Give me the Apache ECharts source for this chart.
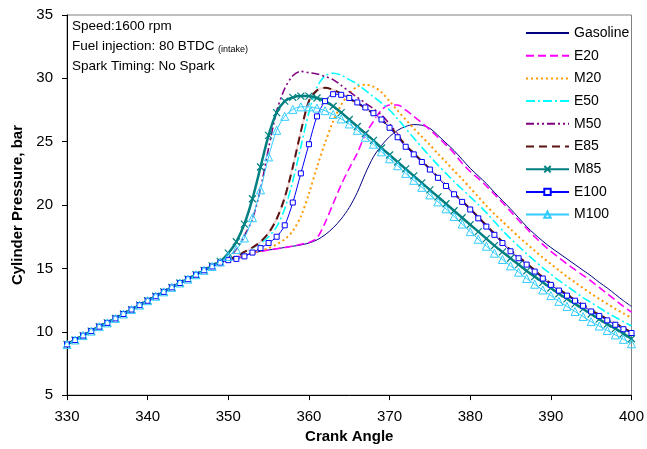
<!DOCTYPE html>
<html>
<head>
<meta charset="utf-8">
<script src="https://cdn.jsdelivr.net/npm/echarts@6/dist/echarts.min.js"></script>
<style>
  html, body { margin: 0; padding: 0; background: #fff; }
  #chart { width: 647px; height: 449px; }
</style>
</head>
<body>
<div id="chart"></div>
<script>
// crank angle, degrees
const angles = [
  330, 331, 332, 333, 334, 335, 336, 337, 338, 339,
  340, 341, 342, 343, 344, 345, 346, 347, 348, 349,
  350, 351, 352, 353, 354, 355, 356, 357, 358, 359,
  360, 361, 362, 363, 364, 365, 366, 367, 368, 369,
  370, 371, 372, 373, 374, 375, 376, 377, 378, 379,
  380, 381, 382, 383, 384, 385, 386, 387, 388, 389,
  390, 391, 392, 393, 394, 395, 396, 397, 398, 399,
  400
];

// cylinder pressure, bar (one value per degree, 330..400)
const gasoline = [
  9.0, 9.35, 9.7, 10.05, 10.4, 10.7, 11.05, 11.4, 11.75, 12.1,
  12.45, 12.8, 13.15, 13.5, 13.85, 14.15, 14.5, 14.85, 15.15, 15.45,
  15.7, 15.9, 16.05, 16.2, 16.35, 16.45, 16.55, 16.65, 16.75, 16.85,
  17.0, 17.25, 17.65, 18.2, 18.9, 19.8, 21.0, 22.5, 23.8, 24.7,
  25.4, 25.9, 26.2, 26.35, 26.3, 26.05, 25.5, 24.9, 24.3, 23.6,
  22.9, 22.3, 21.7, 21.0, 20.35, 19.7, 19.0, 18.3, 17.7, 17.15,
  16.65, 16.2, 15.75, 15.3, 14.85, 14.4, 13.9, 13.45, 12.95, 12.45,
  12.0
];
const e20 = [
  9.0, 9.35, 9.7, 10.05, 10.4, 10.7, 11.05, 11.4, 11.75, 12.1,
  12.45, 12.8, 13.15, 13.5, 13.85, 14.15, 14.5, 14.85, 15.15, 15.45,
  15.7, 15.9, 16.05, 16.2, 16.35, 16.45, 16.55, 16.65, 16.75, 16.9,
  17.05, 17.4, 18.6, 20.1, 21.6, 22.9, 24.1, 25.6, 26.6, 27.5,
  27.9, 27.9, 27.5, 27.0, 26.5, 25.95, 25.35, 24.75, 24.1, 23.3,
  22.65, 22.1, 21.5, 20.85, 20.2, 19.5, 18.8, 18.15, 17.5, 16.9,
  16.35, 15.85, 15.35, 14.9, 14.45, 14.0, 13.5, 13.0, 12.5, 12.0,
  11.55
];
const m20 = [
  9.0, 9.35, 9.7, 10.05, 10.4, 10.7, 11.05, 11.4, 11.75, 12.1,
  12.45, 12.8, 13.15, 13.5, 13.85, 14.15, 14.5, 14.85, 15.15, 15.45,
  15.7, 15.9, 16.05, 16.25, 16.4, 16.6, 16.9, 17.3, 17.95, 19.1,
  20.9, 23.0, 24.9, 26.6, 27.9, 28.8, 29.35, 29.5, 29.35, 28.9,
  28.2, 27.45, 26.75, 26.05, 25.4, 24.75, 24.05, 23.4, 22.7, 22.05,
  21.35, 20.65, 19.95, 19.3, 18.7, 18.1, 17.5, 16.95, 16.4, 15.85,
  15.35, 14.85, 14.35, 13.9, 13.45, 13.0, 12.6, 12.2, 11.8, 11.45,
  11.1
];
const e50 = [
  9.0, 9.35, 9.7, 10.05, 10.4, 10.7, 11.05, 11.4, 11.75, 12.1,
  12.45, 12.8, 13.15, 13.5, 13.85, 14.15, 14.5, 14.85, 15.15, 15.45,
  15.7, 15.95, 16.25, 16.6, 17.0, 17.5, 18.3, 19.7, 21.9, 24.6,
  27.3, 29.3, 30.2, 30.4, 30.25, 29.9, 29.55, 29.05, 28.55, 28.05,
  27.5, 26.8, 26.05, 25.3, 24.55, 23.85, 23.15, 22.5, 21.85, 21.25,
  20.65, 20.05, 19.4, 18.7, 18.0, 17.35, 16.75, 16.15, 15.6, 15.05,
  14.55, 14.05, 13.6, 13.15, 12.7, 12.3, 11.9, 11.5, 11.15, 10.8,
  10.45
];
const m50 = [
  9.0, 9.35, 9.7, 10.05, 10.4, 10.7, 11.05, 11.4, 11.75, 12.1,
  12.45, 12.8, 13.15, 13.5, 13.85, 14.15, 14.5, 14.85, 15.15, 15.5,
  15.85, 16.5, 17.6, 18.9, 21.3, 24.5, 27.4, 29.2, 30.2, 30.55,
  30.45, 30.35, 30.15, 29.9, 29.45, 28.95, 28.5, 28.05, 27.6, 27.1,
  26.4, 25.6, 24.75, 24.1, 23.45, 22.85, 22.2, 21.55, 20.9, 20.3,
  19.7, 19.0, 18.35, 17.7, 17.05, 16.4, 15.85, 15.35, 14.8, 14.25,
  13.75, 13.3, 12.9, 12.5, 12.1, 11.7, 11.35, 11.0, 10.65, 10.3,
  10.0
];
const e85 = [
  9.0, 9.35, 9.7, 10.05, 10.4, 10.7, 11.05, 11.4, 11.75, 12.1,
  12.45, 12.8, 13.15, 13.5, 13.85, 14.15, 14.5, 14.85, 15.15, 15.45,
  15.7, 15.95, 16.3, 16.65, 17.1, 17.8, 18.9, 20.6, 23.0, 25.8,
  28.2, 29.05, 29.25, 29.1, 28.8, 28.4, 28.05, 27.65, 27.2, 26.7,
  26.2, 25.5, 24.7, 24.1, 23.45, 22.85, 22.2, 21.55, 20.9, 20.3,
  19.7, 19.05, 18.4, 17.75, 17.1, 16.45, 15.9, 15.4, 14.85, 14.3,
  13.8, 13.35, 12.95, 12.5, 12.1, 11.7, 11.35, 11.0, 10.65, 10.3,
  9.95
];
const m85 = [
  9.0, 9.35, 9.7, 10.05, 10.4, 10.7, 11.05, 11.4, 11.75, 12.1,
  12.45, 12.8, 13.15, 13.5, 13.85, 14.15, 14.5, 14.85, 15.2, 15.55,
  16.2, 17.1, 18.5, 20.5, 23.0, 25.5, 27.3, 28.2, 28.5, 28.6,
  28.6, 28.45, 28.2, 27.8, 27.3, 26.75, 26.2, 25.65, 25.1, 24.5,
  23.95, 23.4, 22.85, 22.3, 21.75, 21.2, 20.65, 20.1, 19.55, 19.0,
  18.45, 17.9, 17.35, 16.8, 16.3, 15.8, 15.3, 14.8, 14.35, 13.9,
  13.45, 13.0, 12.6, 12.2, 11.8, 11.4, 11.0, 10.6, 10.25, 9.85,
  9.45
];
const e100 = [
  9.0, 9.35, 9.7, 10.05, 10.4, 10.7, 11.05, 11.4, 11.75, 12.1,
  12.45, 12.8, 13.15, 13.5, 13.85, 14.15, 14.5, 14.85, 15.15, 15.45,
  15.65, 15.75, 15.95, 16.25, 16.6, 17.0, 17.5, 18.4, 20.2, 22.5,
  24.8, 27.0, 28.2, 28.75, 28.7, 28.45, 28.1, 27.7, 27.25, 26.75,
  26.1, 25.35, 24.6, 24.0, 23.4, 22.8, 22.15, 21.5, 20.85, 20.25,
  19.65, 18.95, 18.3, 17.65, 17.0, 16.35, 15.8, 15.3, 14.75, 14.2,
  13.7, 13.25, 12.85, 12.45, 12.05, 11.6, 11.25, 10.9, 10.55, 10.2,
  9.9
];
const m100 = [
  9.0, 9.35, 9.7, 10.05, 10.4, 10.7, 11.05, 11.4, 11.75, 12.1,
  12.45, 12.8, 13.15, 13.5, 13.85, 14.15, 14.5, 14.85, 15.15, 15.5,
  15.95, 16.5, 17.4, 19.0, 21.2, 23.8, 25.9, 27.0, 27.55, 27.75,
  27.75, 27.65, 27.45, 27.15, 26.8, 26.4, 25.9, 25.35, 24.8, 24.2,
  23.65, 23.1, 22.5, 21.95, 21.4, 20.8, 20.25, 19.7, 19.1, 18.5,
  17.9, 17.3, 16.75, 16.2, 15.7, 15.2, 14.7, 14.2, 13.75, 13.3,
  12.85, 12.4, 12.0, 11.6, 11.2, 10.8, 10.45, 10.1, 9.75, 9.4,
  9.05
];

const seriesNames = ["Gasoline", "E20", "M20", "E50", "M50", "E85", "M85", "E100", "M100"];
const seriesValues = [gasoline, e20, m20, e50, m50, e85, m85, e100, m100];

const notes = ["Speed:1600 rpm", "Fuel injection: 80 BTDC", "Spark Timing: No Spark"];

const FONT = "Liberation Sans, Arial, sans-serif";

// line look for each fuel
const looks = {
  Gasoline: { color: "#000080", width: 1, type: "solid" },
  E20: { color: "#FF00FF", width: 1.6, type: [8, 4] },
  M20: { color: "#FF9900", width: 2, type: [2, 3] },
  E50: { color: "#00FFFF", width: 1.6, type: [9, 3, 2, 3] },
  M50: { color: "#800080", width: 1.6, type: [8, 3, 2, 3, 2, 3] },
  E85: { color: "#5A1414", width: 2, type: [8, 5], under: "#F5D8D8" },
  M85: { color: "#008080", width: 2.5, type: "solid",
    symbol: "path://M0,0L10,10M10,0L0,10", symbolSize: 7,
    item: { color: "rgba(0,0,0,0)", borderColor: "#008080", borderWidth: 1.2 } },
  E100: { color: "#0000FF", width: 1, type: "solid",
    symbol: "rect", symbolSize: 5,
    item: { color: "#ffffff", borderColor: "#0000FF", borderWidth: 1 } },
  M100: { color: "#33CCFF", width: 1, type: "solid",
    symbol: "triangle", symbolSize: 8,
    item: { color: "rgba(255,255,255,0)", borderColor: "#33CCFF", borderWidth: 1 } }
};

function toPoints(vals) {
  return angles.map((a, j) => [a, vals[j]]);
}

function buildSeries() {
  const out = [];
  seriesNames.forEach((name, i) => {
    const lk = looks[name];
    if (lk.under) {
      // pale backing under the E85 dashes, as in the original
      out.push({
        name: name + "-under",
        type: "line",
        data: toPoints(seriesValues[i]),
        smooth: 0.3,
        symbol: "none",
        silent: true,
        lineStyle: { color: lk.under, width: lk.width },
        emphasis: { disabled: true }
      });
    }
    out.push({
      name,
      type: "line",
      data: toPoints(seriesValues[i]),
      smooth: 0.3,
      lineStyle: { color: lk.color, width: lk.width, type: lk.type },
      itemStyle: lk.item || { color: lk.color },
      symbol: lk.symbol || "none",
      showSymbol: !!lk.symbol,
      symbolSize: lk.symbolSize || 0,
      emphasis: { disabled: true }
    });
  });
  return out;
}

const chart = echarts.init(document.getElementById("chart"), null, { renderer: "canvas" });

chart.setOption({
  backgroundColor: "#ffffff",
  animation: false,
  grid: {
    left: 67, right: 10, top: 15, bottom: 50,
    show: true, borderColor: "#808080", borderWidth: 1
  },
  legend: {
    orient: "vertical",
    left: 525,
    top: 26,
    padding: 0,
    itemWidth: 43,
    itemHeight: 8,
    itemGap: 8.7,
    selectedMode: false,
    textStyle: { fontFamily: FONT, fontSize: 14, color: "#000", lineHeight: 14, height: 14 },
    data: seriesNames.map(n => looks[n].symbol ? n : { name: n, itemStyle: { opacity: 0 } })
  },
  xAxis: {
    type: "value",
    min: 330, max: 400, interval: 10,
    name: "Crank Angle",
    nameLocation: "middle",
    nameGap: 31,
    nameTextStyle: { fontFamily: FONT, fontSize: 15, fontWeight: "bold", color: "#000" },
    axisLine: { show: true, onZero: false, lineStyle: { color: "#000", width: 1 } },
    axisTick: { show: true, length: 5, lineStyle: { color: "#000" } },
    axisLabel: { fontFamily: FONT, fontSize: 15, color: "#000", margin: 14 },
    splitLine: { show: false }
  },
  yAxis: {
    type: "value",
    min: 5, max: 35, interval: 5,
    name: "Cylinder Pressure, bar",
    nameLocation: "middle",
    nameGap: 39,
    nameTextStyle: { fontFamily: FONT, fontSize: 15, fontWeight: "bold", color: "#000" },
    axisLine: { show: true, onZero: false, lineStyle: { color: "#000", width: 1 } },
    axisTick: { show: true, length: 5, lineStyle: { color: "#000" } },
    axisLabel: { fontFamily: FONT, fontSize: 15, color: "#000", margin: 14 },
    splitLine: { show: false }
  },
  graphic: [
    { type: "text", x: 72, y: 26, style: { text: notes[0], font: "13.5px " + FONT, fill: "#000", verticalAlign: "middle" } },
    { type: "text", x: 72, y: 46, style: { text: notes[1], font: "13.5px " + FONT, fill: "#000", verticalAlign: "middle" } },
    { type: "text", x: 218, y: 50, style: { text: "(intake)", font: "9px " + FONT, fill: "#000", verticalAlign: "middle" } },
    { type: "text", x: 72, y: 66, style: { text: notes[2], font: "13.5px " + FONT, fill: "#000", verticalAlign: "middle" } }
  ],
  series: buildSeries()
});
</script>
</body>
</html>
